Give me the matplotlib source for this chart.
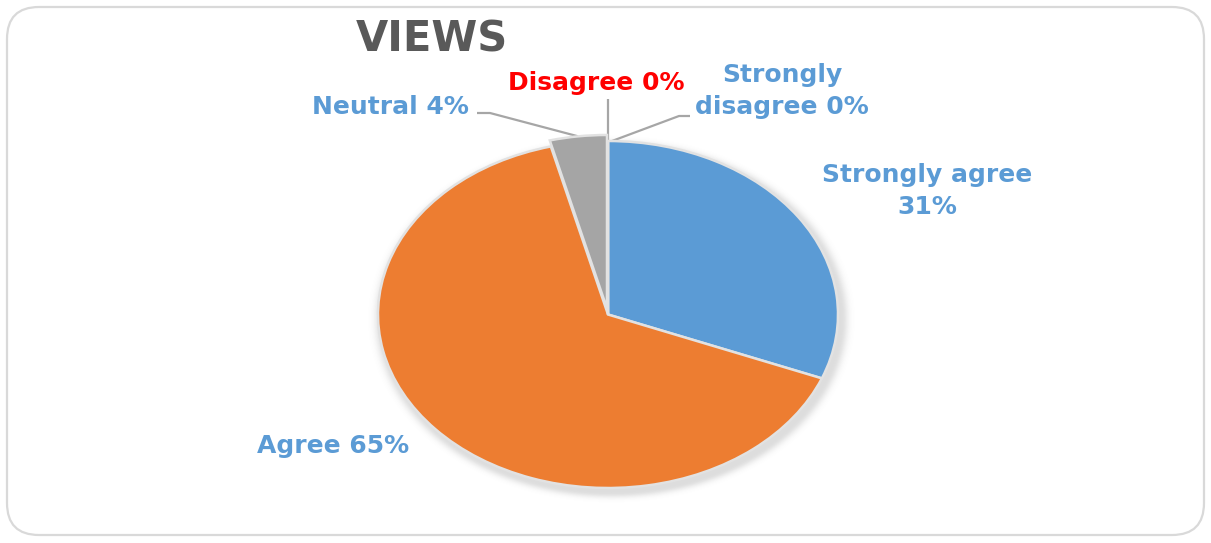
import numpy as np
import matplotlib
matplotlib.use("Agg")
import matplotlib.pyplot as plt
from matplotlib.patches import FancyBboxPatch

# Survey responses
categories = ["Strongly agree", "Agree", "Neutral", "Disagree", "Strongly disagree"]
values = [31, 65, 4, 0, 0]
label_formats = ["Strongly agree\n{}%", "Agree {}%", "Neutral {}%", "Disagree {}%",
                 "Strongly\ndisagree {}%"]
title = "VIEWS"

slice_colors = ["#5B9BD5", "#ED7D31", "#A5A5A5", "#FFC000", "#4472C4"]
label_colors = ["#5B9BD5", "#5B9BD5", "#5B9BD5", "#FF0000", "#5B9BD5"]
explode = [0, 0, 0.035, 0, 0]

W, H, DPI = 1211, 543, 100
fig = plt.figure(figsize=(W / DPI, H / DPI), dpi=DPI)
fig.patch.set_facecolor("white")

# Overlay axes in pixel units (origin top-left) for frame, shadow, labels
ov = fig.add_axes([0, 0, 1, 1])
ov.set_xlim(0, W)
ov.set_ylim(H, 0)
ov.axis("off")

frame = FancyBboxPatch((7, 7), W - 14, H - 15,
                       boxstyle="round,pad=0,rounding_size=32",
                       facecolor="white", edgecolor="#D9D9D9", linewidth=1.6,
                       zorder=0)
ov.add_patch(frame)

# Pie placement in pixels
pl, pr, pt, pb = 378, 838, 141, 488
cx, cy = (pl + pr) / 2, (pt + pb) / 2
rx, ry = (pr - pl) / 2, (pb - pt) / 2

# Soft drop shadow behind the pie
gx0, gx1, gy0, gy1 = pl - 30, pr + 30, pt - 30, pb + 30
xs = np.arange(gx0, gx1)
ys = np.arange(gy0, gy1)
X, Y = np.meshgrid(xs, ys)
d = np.sqrt(((X - cx - 3) / rx) ** 2 + ((Y - cy - 4) / ry) ** 2)
dist = np.clip((d - 1) * (rx + ry) / 2, 0, None)
alpha = 0.2 * np.exp(-(dist / 6.0) ** 2)
rgba = np.zeros(X.shape + (4,))
rgba[..., :3] = 0.35
rgba[..., 3] = alpha
ov.imshow(rgba, extent=(gx0, gx1, gy1, gy0), zorder=1, interpolation="bilinear")
ov.set_xlim(0, W)
ov.set_ylim(H, 0)

# Pie axes (stretched to an ellipse)
ax = fig.add_axes([pl / W, 1 - pb / H, (pr - pl) / W, (pb - pt) / H])
wedges, _ = ax.pie(values, colors=slice_colors, startangle=90, counterclock=False,
                   explode=explode, radius=1,
                   wedgeprops=dict(edgecolor="#E2E2E2", linewidth=1.8))
ax.set_aspect("auto")
ax.set_xlim(-1, 1)
ax.set_ylim(-1, 1)
ax.axis("off")
ax.patch.set_alpha(0)

fig.canvas.draw()
to_ov = ov.transData.inverted()


def edge_point(i, frac=0.5):
    w = wedges[i]
    ang = np.deg2rad(w.theta1 + (w.theta2 - w.theta1) * frac)
    cxw, cyw = w.center
    p = ax.transData.transform((cxw + w.r * np.cos(ang), cyw + w.r * np.sin(ang)))
    return to_ov.transform(p)


font = ["DejaVu Sans"]
fs = 18

ov.text(432, 40, title, fontsize=30, fontweight="bold", color="#595959",
        ha="center", va="center", family=font, zorder=5)

label_pos = [(927, 191), (333, 446), (390, 107), (596, 83), (782, 91)]
for i, (fmt, val) in enumerate(zip(label_formats, values)):
    x, y = label_pos[i]
    ov.text(x, y, fmt.format(val), fontsize=fs, fontweight="bold",
            color=label_colors[i], ha="center", va="center", family=font,
            linespacing=1.38, zorder=5)

# Leader lines
line_kw = dict(color="#A6A6A6", linewidth=1.6, zorder=4, solid_capstyle="butt")
ex, ey = edge_point(2)
ov.plot([477, 490, ex], [113, 113, ey], **line_kw)
ex, ey = edge_point(3)
ov.plot([ex, ex], [99, ey], **line_kw)
ex, ey = edge_point(4)
ov.plot([690, 679, ex + 4], [116, 116, ey], **line_kw)

fig.savefig("out.png", dpi=DPI, facecolor="white")
